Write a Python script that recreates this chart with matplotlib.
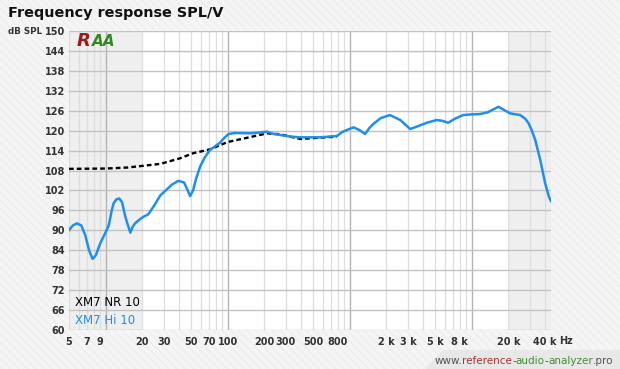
import matplotlib
matplotlib.use("Agg")
import matplotlib.pyplot as plt
from matplotlib.patches import Rectangle, Polygon
from matplotlib.offsetbox import TextArea, HPacker, AnchoredOffsetbox

# --- data ---
hi_freq = [5.0, 5.4, 5.8, 6.3, 6.8, 7.3, 7.8, 8.3, 9.0, 10.0, 10.6, 11.2, 11.6, 12.2,
           12.9, 13.6, 14.5, 15.9, 16.6, 17.4, 19.0, 20.4, 22.3, 25.0, 28.0, 31.0,
           35.0, 39.4, 43.9, 47.0, 49.2, 52.0, 55.0, 59.4, 65.0, 71.6, 80.0, 86.0,
           92.0, 101.5, 115.0, 152.0, 180.0, 210.0, 240.0, 270.0, 330.0, 393.0,
           572.0, 786.0, 870.0, 948.0, 1075.0, 1200.0, 1337.0, 1450.0, 1560.0,
           1800.0, 2135.0, 2600.0, 3130.0, 3600.0, 4300.0, 5165.0, 5700.0, 6420.0,
           7300.0, 8510.0, 10000.0, 11700.0, 13500.0, 16600.0, 18500.0, 20700.0,
           25000.0, 27500.0, 29300.0, 31000.0, 33200.0, 36500.0, 40000.0, 43000.0,
           44700.0]
hi_db = [90.1, 91.5, 92.1, 91.5, 88.5, 84.0, 81.4, 82.5, 86.0, 89.5, 91.5, 96.0, 98.1,
         99.3, 99.6, 98.5, 94.0, 89.3, 91.0, 92.1, 93.3, 94.1, 94.8, 97.5, 100.5,
         102.0, 103.8, 104.9, 104.4, 102.0, 100.3, 102.0, 105.5, 109.2, 112.0, 114.2,
         115.5, 116.3, 117.5, 119.0, 119.3, 119.2, 119.4, 119.7, 119.0, 118.7, 118.2,
         118.0, 118.0, 118.4, 119.6, 120.2, 121.0, 120.2, 119.0, 120.8, 122.0, 123.8,
         124.7, 123.2, 120.5, 121.3, 122.4, 123.2, 123.0, 122.4, 123.6, 124.7, 124.9,
         125.0, 125.5, 127.2, 126.2, 125.2, 124.7, 123.6, 122.2, 120.2, 117.2, 111.2,
         104.2, 100.1, 98.8]

nr_freq = [5.0, 10.0, 15.0, 20.0, 28.0, 40.0, 52.0, 72.0, 100.0, 150.0, 210.0, 270.0,
           393.0, 572.0, 786.0]
nr_db = [108.5, 108.6, 108.9, 109.4, 110.0, 111.6, 113.2, 114.4, 116.6, 118.0, 119.2,
         118.9, 117.5, 117.9, 118.2]

x_ticks = [5, 7, 9, 20, 30, 50, 70, 100, 200, 300, 500, 800, 2000, 3000, 5000, 8000,
           20000, 40000]
x_labels = ["5", "7", "9", "20", "30", "50", "70", "100", "200", "300", "500", "800",
            "2 k", "3 k", "5 k", "8 k", "20 k", "40 k"]
y_ticks = list(range(60, 151, 6))

series_names = ["XM7 NR 10", "XM7 Hi 10"]
blue = "#1e8ff0"

fig = plt.figure(figsize=(6.2, 3.69), dpi=100)
fig.patch.set_facecolor("#f5f5f5")
# striped background
fig.patches.append(Rectangle((0, 0), 1, 1, transform=fig.transFigure,
                             facecolor="#f5f5f5", edgecolor="#eeeeee", hatch="\\\\\\\\",
                             lw=0, zorder=-10))
# darker band behind the watermark
fig.patches.append(Polygon([(0.685, 0), (0.715, 0.052), (1, 0.052), (1, 0)],
                           closed=True, transform=fig.transFigure,
                           facecolor="#e8e8e8", lw=0, zorder=-9))

ax = fig.add_axes([69 / 620, 39 / 369, 482 / 620, 299 / 369])
ax.set_facecolor("white")
ax.set_xscale("log")
ax.set_xlim(5, 44700)
ax.set_ylim(60, 150)

# shaded ranges
ax.axvspan(5, 20, color="#efefef", lw=0, zorder=0)
ax.axvspan(20000, 44700, color="#efefef", lw=0, zorder=0)

# vertical grid
for dec in [1, 10, 100, 1000, 10000]:
    for m in range(1, 10):
        f = dec * m
        if f < 5 or f > 44700:
            continue
        if m == 1:
            ax.axvline(f, color="#b4b4b4", lw=1.0, zorder=1)
        else:
            ax.axvline(f, color="#dedede", lw=0.9, zorder=1)
# horizontal grid
for y in y_ticks:
    ax.axhline(y, color="#c2c2c2", lw=1.0, zorder=1)

ax.plot(nr_freq, nr_db, color="black", lw=1.7, ls=(0, (2.0, 1.3)), zorder=3)
ax.plot(hi_freq, hi_db, color=blue, lw=1.8, zorder=4, solid_joinstyle="round")

for s in ax.spines.values():
    s.set_visible(False)
ax.set_xticks(x_ticks)
ax.set_xticklabels(x_labels)
ax.xaxis.set_minor_locator(matplotlib.ticker.NullLocator())
ax.set_yticks(y_ticks)
ax.tick_params(length=0, labelsize=7, labelcolor="#333333")
ax.tick_params(axis="y", pad=3)
ax.tick_params(axis="x", pad=5)
for lab in ax.get_xticklabels() + ax.get_yticklabels():
    lab.set_fontweight("bold")

# legend text
fig.text(75 / 620, 1 - 302 / 369, series_names[0], color="black", fontsize=8.5,
         va="center", ha="left")
fig.text(75 / 620, 1 - 320 / 369, series_names[1], color=blue, fontsize=8.5,
         va="center", ha="left")

# titles
fig.text(8 / 620, 1 - 13 / 369, "Frequency response SPL/V", fontsize=10.4,
         fontweight="bold", color="#111111", va="center", ha="left")
fig.text(8 / 620, 1 - 31 / 369, "dB SPL", fontsize=6.3, fontweight="bold",
         color="#333333", va="center", ha="left")
fig.text(566 / 620, 1 - 341 / 369, "Hz", fontsize=7, fontweight="bold",
         color="#333333", va="center", ha="center")

# logo
fig.text(77 / 620, 1 - 41 / 369, "R", fontsize=13, fontweight="bold", color="#a01818",
         va="center", ha="left", style="italic")
fig.text(92 / 620, 1 - 41 / 369, "AA", fontsize=11, fontweight="bold", color="#2f8a1e",
         va="center", ha="left", style="italic")

# watermark
parts = [("www.", "#555555"), ("reference", "#b03030"), ("-", "#555555"),
         ("audio", "#3f8f2f"), ("-", "#555555"), ("analyzer", "#3f8f2f"),
         (".pro", "#555555")]
boxes = [TextArea(t, textprops=dict(color=c, fontsize=7.5)) for t, c in parts]
pack = HPacker(children=boxes, pad=0, sep=0, align="baseline")
anch = AnchoredOffsetbox(loc="lower right", child=pack, frameon=False, pad=0,
                         borderpad=0, bbox_to_anchor=(0.99, 0.008),
                         bbox_transform=fig.transFigure)
fig.add_artist(anch)

fig.savefig("out.png", dpi=100, facecolor=fig.get_facecolor())
